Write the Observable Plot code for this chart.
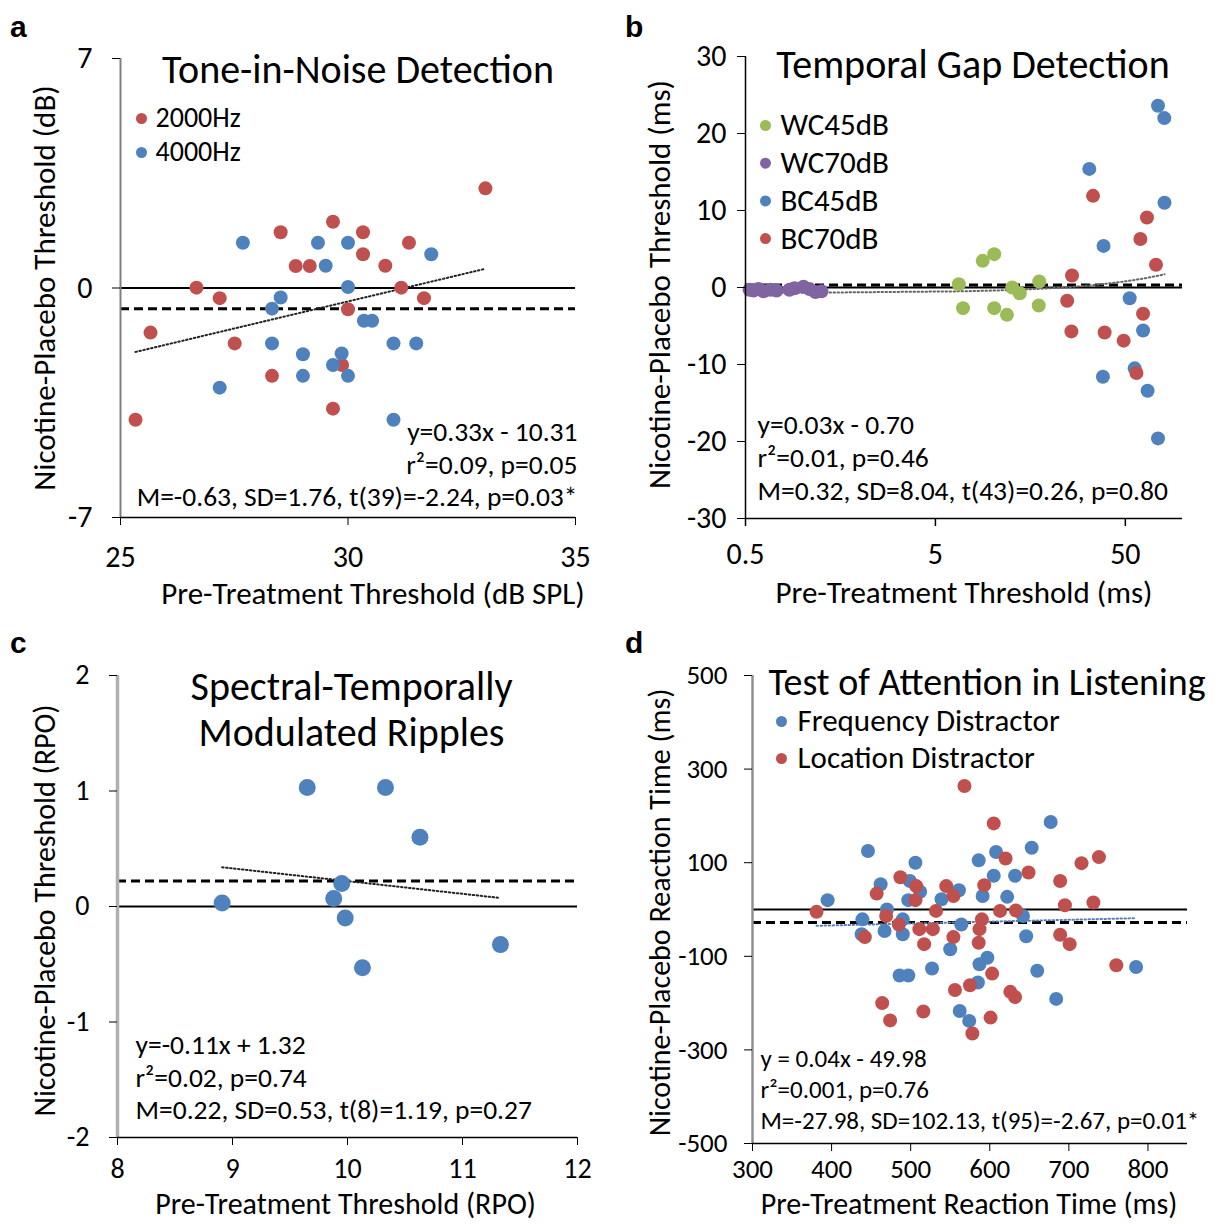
<!DOCTYPE html>
<html><head><meta charset="utf-8">
<script src="https://cdn.jsdelivr.net/npm/d3@7"></script>
<script src="https://cdn.jsdelivr.net/npm/@observablehq/plot@0.6"></script>
<style>
body{margin:0;background:#fff;}
#fig{position:relative;width:1218px;height:1224px;overflow:hidden;}
.panel{position:absolute;}
.panel svg{overflow:visible;}
.letter{position:absolute;font-family:'Liberation Sans',Arial,sans-serif;font-weight:bold;font-size:30px;line-height:30px;}
</style></head><body><div id="fig"></div>
<script>
const FONT = "Carlito, Lato, 'Open Sans', sans-serif";
const RED = "#c0504d", BLUE = "#4f81bd", GREEN = "#9bbb59", PURPLE = "#8064a2";

// ---------- Panel a: Tone-in-Noise Detection ----------
const tone2000 = [[33.02,3.04],[29.67,2.02],[28.52,1.70],[30.33,1.70],[31.34,1.38],[30.33,1.03],[28.85,0.67],[29.16,0.67],[30.82,0.68],[26.67,0.01],[31.17,0.01],[27.18,-0.31],[31.67,-0.31],[30.0,-0.65],[25.66,-1.36],[27.51,-1.69],[29.87,-2.35],[28.33,-2.68],[29.67,-3.68],[25.33,-4.02]];
const tone4000 = [[27.69,1.38],[29.34,1.38],[30.0,1.38],[31.83,1.03],[29.51,0.68],[30.0,0.03],[28.52,-0.29],[28.33,-0.63],[30.35,-1.0],[30.53,-1.0],[28.33,-1.69],[31.0,-1.69],[31.5,-1.69],[29.01,-2.02],[29.86,-2.0],[29.67,-2.35],[29.01,-2.68],[30.0,-2.68],[27.18,-3.04],[31.0,-4.02]];
const toneFit = {slope: 0.33, intercept: -10.31};
const toneMean = -0.63;
const toneStats = ["y=0.33x - 10.31", "r\u00b2=0.09, p=0.05", "M=-0.63, SD=1.76, t(39)=-2.24, p=0.03*"];
const toneXTicks = [25, 30, 35], toneYTicks = [-7, 0, 7];

// ---------- Panel b: Temporal Gap Detection ----------
const gapWC45 = [[6.64,0.43],[10.2,4.33],[8.87,3.46],[6.99,-2.68],[10.2,-2.68],[11.9,-3.55],[12.7,0.0],[13.9,-0.74],[17.6,0.78],[17.5,-2.34]];
const gapWC70 = [[0.525,-0.3],[0.551,-0.4],[0.585,-0.2],[0.622,-0.5],[0.677,-0.3],[0.728,-0.4],[0.852,-0.3],[0.905,-0.1],[1.01,0.1],[1.086,-0.2],[1.168,-0.6],[1.256,-0.5]];
const gapBC45 = [[74.3,23.6],[80.2,22.0],[32.3,15.4],[80.4,11.0],[38.4,5.4],[52.7,-1.39],[62.0,-5.58],[56.0,-10.5],[38.1,-11.6],[65.5,-13.4],[74.3,-19.6]];
const gapBC70 = [[33.8,11.9],[65.0,9.1],[60.0,6.3],[72.5,2.95],[26.2,1.56],[24.7,-1.73],[62.0,-3.4],[26.0,-5.7],[38.9,-5.84],[49.0,-6.9],[57.2,-11.1]];
const gapFit = {slope: 0.03, intercept: -0.70};
const gapMean = 0.32;
const gapStats = ["y=0.03x - 0.70", "r\u00b2=0.01, p=0.46", "M=0.32, SD=8.04, t(43)=0.26, p=0.80"];
const gapXTicks = [0.5, 5, 50], gapYTicks = [-30, -20, -10, 0, 10, 20, 30];

// ---------- Panel c: Spectral-Temporally Modulated Ripples ----------
const ripples = [[9.65,1.03],[10.33,1.03],[10.63,0.60],[8.91,0.03],[9.95,0.20],[9.88,0.07],[9.98,-0.10],[11.33,-0.33],[10.13,-0.53]];
const rippleFit = {slope: -0.11, intercept: 1.32};
const rippleMean = 0.22;
const rippleStats = ["y=-0.11x + 1.32", "r\u00b2=0.02, p=0.74", "M=0.22, SD=0.53, t(8)=1.19, p=0.27"];
const rippleXTicks = [8, 9, 10, 11, 12], rippleYTicks = [-2, -1, 0, 1, 2];

// ---------- Panel d: Test of Attention in Listening ----------
const talFreq = [[446,125],[506,100],[462,54],[499,61],[395,20],[497,20],[561,41],[539,22],[470,0],[439,-21],[490,-21],[438,-53],[467,-46],[490,-53],[550,-85],[564,-32],[486,-141],[497,-141],[527,-126],[562,-217],[574,-238],[677,187],[608,123],[586,105],[653,132],[605,72],[632,72],[591,29],[622,27],[642,-14],[646,-57],[597,-103],[587,-117],[660,-131],[785,-123],[585,-156],[684,-191],[512,38]];
const talLoc = [[487,69],[507,50],[457,34],[506,20],[545,50],[554,29],[381,-5],[532,-3],[469,-14],[485,-32],[442,-59],[511,-42],[528,-42],[517,-74],[554,-59],[556,-172],[575,-162],[464,-200],[474,-237],[516,-218],[605,184],[620,109],[716,99],[738,112],[649,79],[689,61],[593,52],[613,-3],[633,-2],[695,9],[731,15],[590,-21],[587,-42],[586,-71],[689,-54],[701,-74],[603,-137],[760,-119],[626,-176],[632,-187],[601,-231],[578,-265],[568,264]];
const talFit = {slope: 0.04, intercept: -49.98};
const talMean = -27.98;
const talStats = ["y = 0.04x - 49.98", "r\u00b2=0.001, p=0.76", "M=-27.98, SD=102.13, t(95)=-2.67, p=0.01*"];
const talXTicks = [300, 400, 500, 600, 700, 800], talYTicks = [-500, -300, -100, 100, 300, 500];

function fitPoints(series, fit) {
  const xs = Array.from(new Set(series.flatMap(s => s.data.map(d => d[0])))).sort((a, b) => a - b);
  return xs.map(x => ({x, y: fit.slope * x + fit.intercept}));
}

const TICK = 8;

function makePanel(c) {
  const marks = [];
  const frameH = c.height - c.m[0] - c.m[2];
  marks.push(Plot.ruleY([0], {stroke: "#000", strokeWidth: 1.8}));
  marks.push(Plot.ruleY([c.mean], {stroke: "#000", strokeWidth: 3, strokeDasharray: "9,5"}));
  marks.push(Plot.line(fitPoints(c.series, c.fit), {x: "x", y: "y", stroke: c.fitColor, strokeWidth: 2, strokeDasharray: "1.5,2.5"}));
  for (const s of c.drawOrder) {
    marks.push(Plot.dot(s.data, {x: d => d[0], y: d => d[1], r: c.r, fill: s.color}));
  }
  // axis lines
  marks.push(Plot.ruleX([c.xDomain[0]], {stroke: c.yAxisColor, strokeWidth: c.yAxisWidth}));
  marks.push(Plot.ruleY([c.yDomain[0]], {stroke: "#000", strokeWidth: 1.5}));
  if (c.xType === "log") {
    // x ticks drawn explicitly for the log axis
    const below = (c.yDomain[1] - c.yDomain[0]) * TICK / frameH;
    marks.push(Plot.ruleX(c.xTicks, {x: d => d, y1: c.yDomain[0], y2: c.yDomain[0] - below, stroke: "#000", strokeWidth: 1.5}));
    marks.push(Plot.text(c.xTicks, {x: d => d, frameAnchor: "bottom", dy: TICK + c.xPad, lineAnchor: "top", text: d => String(d), fontSize: c.tickFont}));
  } else {
    marks.push(Plot.axisX(c.xTicks, {tickFormat: d => String(d), tickSize: TICK, tickPadding: c.xPad, fontSize: c.tickFont, label: null}));
  }
  marks.push(Plot.axisY(c.yTicks, {tickFormat: d => String(d), tickSize: TICK, tickPadding: c.yPad, fontSize: c.tickFont, label: null}));
  // axis titles
  marks.push(Plot.text([c.xLabel], {frameAnchor: "bottom", dx: c.xLabelDx, dy: c.xLabelDy, fontSize: c.labelFont, textAnchor: "middle", lineAnchor: "middle"}));
  marks.push(Plot.text([c.yLabel], {frameAnchor: "left", rotate: -90, dx: c.yLabelDx, dy: c.yLabelDy, fontSize: c.labelFont, textAnchor: "middle", lineAnchor: "middle"}));
  // title
  c.title.forEach((t, i) => {
    marks.push(Plot.text([t], {frameAnchor: "top", dx: c.titleDx, dy: c.titleDy + i * c.titleGap, fontSize: c.titleFont, textAnchor: "middle", lineAnchor: "middle"}));
  });
  // legend
  if (c.legend) {
    c.legend.forEach((s, i) => {
      marks.push(Plot.dot([s], {frameAnchor: "top-left", dx: c.legendDotDx, dy: c.legendDy + i * c.legendGap, r: 5.5, fill: s.color}));
      marks.push(Plot.text([s.name], {frameAnchor: "top-left", dx: c.legendTextDx, dy: c.legendDy + i * c.legendGap, textAnchor: "start", lineAnchor: "middle", fontSize: c.legendFont}));
    });
  }
  // statistics
  const n = c.stats.length;
  c.stats.forEach((t, i) => {
    marks.push(Plot.text([t], {frameAnchor: c.statsAnchor, textAnchor: c.statsAnchor.endsWith("right") ? "end" : "start", dx: c.statsDx, dy: c.statsDy - (n - 1 - i) * c.statsGap, fontSize: c.statsFont, lineAnchor: "middle"}));
  });
  return Plot.plot({
    width: c.width, height: c.height,
    marginTop: c.m[0], marginRight: c.m[1], marginBottom: c.m[2], marginLeft: c.m[3],
    x: {type: c.xType || "linear", domain: c.xDomain, axis: null},
    y: {domain: c.yDomain, axis: null},
    style: {fontFamily: FONT, fontSize: "24px", color: "#000", background: "transparent", overflow: "visible"},
    marks
  });
}

const fig = document.getElementById("fig");
function place(el, left, top) {
  const d = document.createElement("div");
  d.className = "panel"; d.style.left = left + "px"; d.style.top = top + "px";
  d.appendChild(el); fig.appendChild(d);
}
function letter(t, left, top) {
  const d = document.createElement("div");
  d.className = "letter"; d.textContent = t; d.style.left = left + "px"; d.style.top = top + "px";
  fig.appendChild(d);
}

const toneSeries = [{name: "2000Hz", color: RED, data: tone2000}, {name: "4000Hz", color: BLUE, data: tone4000}];
place(makePanel({
  width: 600, height: 615, m: [58, 25, 98, 120],
  xDomain: [25, 35], yDomain: [-7, 7], xTicks: toneXTicks, yTicks: toneYTicks,
  series: toneSeries, drawOrder: toneSeries, legend: toneSeries, r: 7,
  fit: toneFit, fitColor: "#222", mean: toneMean,
  yAxisColor: "#808080", yAxisWidth: 2,
  tickFont: 30, xPad: 20, yPad: 20,
  xLabel: "Pre-Treatment Threshold (dB SPL)", xLabelDx: 25, xLabelDy: 77,
  yLabel: "Nicotine-Placebo Threshold (dB)", yLabelDx: -75, yLabelDy: 0, labelFont: 31,
  title: ["Tone-in-Noise Detection"], titleDx: 10, titleDy: 12, titleGap: 0, titleFont: 40,
  legendDotDx: 21, legendTextDx: 35, legendDy: 60, legendGap: 34, legendFont: 28,
  stats: toneStats, statsAnchor: "bottom-right", statsDx: 2, statsDy: -20, statsGap: 32.5, statsFont: 27.5
}), 0, 0);

const gapSeries = [{name: "WC45dB", color: GREEN, data: gapWC45}, {name: "WC70dB", color: PURPLE, data: gapWC70}, {name: "BC45dB", color: BLUE, data: gapBC45}, {name: "BC70dB", color: RED, data: gapBC70}];
place(makePanel({
  width: 609, height: 615, m: [56, 36, 97, 136],
  xType: "log", xDomain: [0.5, 100], yDomain: [-30, 30], xTicks: gapXTicks, yTicks: gapYTicks,
  series: gapSeries, drawOrder: gapSeries, legend: gapSeries, r: 7,
  fit: gapFit, fitColor: "#666", mean: gapMean,
  yAxisColor: "#000", yAxisWidth: 1.5,
  tickFont: 30, xPad: 16, yPad: 11,
  xLabel: "Pre-Treatment Threshold (ms)", xLabelDx: 0, xLabelDy: 75,
  yLabel: "Nicotine-Placebo Threshold (ms)", yLabelDx: -85, yLabelDy: -3, labelFont: 31,
  title: ["Temporal Gap Detection"], titleDx: 9, titleDy: 9, titleGap: 0, titleFont: 40,
  legendDotDx: 20, legendTextDx: 35, legendDy: 69, legendGap: 37.7, legendFont: 31,
  stats: gapStats, statsAnchor: "bottom-left", statsDx: 12, statsDy: -27, statsGap: 33, statsFont: 27.5
}), 609, 0);

const rippleSeries = [{name: "RPO", color: BLUE, data: ripples}];
place(makePanel({
  width: 609, height: 609, m: [60, 32, 87, 117],
  xDomain: [8, 12], yDomain: [-2, 2], xTicks: rippleXTicks, yTicks: rippleYTicks,
  series: rippleSeries, drawOrder: rippleSeries, legend: null, r: 8.5,
  fit: rippleFit, fitColor: "#222", mean: rippleMean,
  yAxisColor: "#b0b0b0", yAxisWidth: 3.5,
  tickFont: 28, xPad: 13, yPad: 20,
  xLabel: "Pre-Treatment Threshold (RPO)", xLabelDx: -2, xLabelDy: 67,
  yLabel: "Nicotine-Placebo Threshold (RPO)", yLabelDx: -72, yLabelDy: 4, labelFont: 30,
  title: ["Spectral-Temporally", "Modulated Ripples"], titleDx: 4, titleDy: 12, titleGap: 46, titleFont: 40,
  stats: rippleStats, statsAnchor: "bottom-left", statsDx: 18, statsDy: -27, statsGap: 32.5, statsFont: 27.5
}), 0, 615);

const talSeries = [{name: "Frequency Distractor", color: BLUE, data: talFreq}, {name: "Location Distractor", color: RED, data: talLoc}];
place(makePanel({
  width: 609, height: 609, m: [60, 31, 81, 143],
  xDomain: [300, 850], yDomain: [-500, 500], xTicks: talXTicks, yTicks: talYTicks,
  series: talSeries, drawOrder: talSeries, legend: talSeries, r: 7,
  fit: talFit, fitColor: "#5b7fb5", mean: talMean,
  yAxisColor: "#909090", yAxisWidth: 2.5,
  tickFont: 27, xPad: 7, yPad: 17,
  xLabel: "Pre-Treatment Reaction Time (ms)", xLabelDx: -1, xLabelDy: 61,
  yLabel: "Nicotine-Placebo Reaction Time (ms)", yLabelDx: -92, yLabelDy: 3, labelFont: 30,
  title: ["Test of Attention in Listening"], titleDx: 17, titleDy: 7, titleGap: 0, titleFont: 38,
  legendDotDx: 29, legendTextDx: 45, legendDy: 46, legendGap: 37, legendFont: 31,
  stats: talStats, statsAnchor: "bottom-left", statsDx: 8, statsDy: -23, statsGap: 31, statsFont: 25
}), 609, 615);

letter("a", 10, 12);
letter("b", 625, 12);
letter("c", 10, 628);
letter("d", 625, 628);
</script></body></html>
